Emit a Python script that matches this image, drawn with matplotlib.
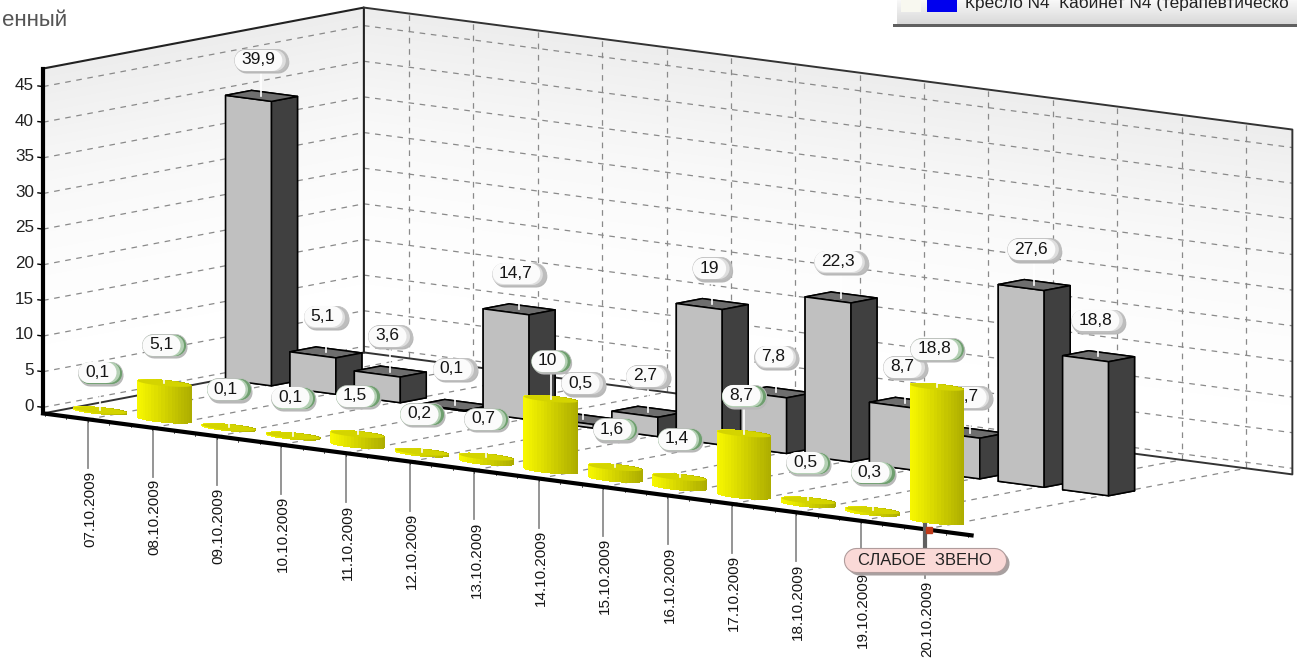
import numpy as np
import matplotlib
matplotlib.use('Agg')
import matplotlib.pyplot as plt
from matplotlib.path import Path
from mpl_toolkits.mplot3d.art3d import Poly3DCollection

plt.rcParams['font.family'] = ['Liberation Sans', 'DejaVu Sans']

dates = ['07.10.2009', '08.10.2009', '09.10.2009', '10.10.2009', '11.10.2009',
         '12.10.2009', '13.10.2009', '14.10.2009', '15.10.2009', '16.10.2009',
         '17.10.2009', '18.10.2009', '19.10.2009', '20.10.2009']
yellow_vals = [0.1, 5.1, 0.1, 0.1, 1.5, 0.2, 0.7, 10, 1.6, 1.4, 8.7, 0.5, 0.3, 18.8]
gray_vals = [39.9, 5.1, 3.6, 0.1, 14.7, 0.5, 2.7, 19, 7.8, 22.3, 8.7, 5.7, 27.6, 18.8]
z_ticks = [0, 5, 10, 15, 20, 25, 30, 35, 40, 45]
legend_text = 'Кресло N4  Кабинет N4 (терапевтическо'
weak_text = 'СЛАБОЕ  ЗВЕНО'

# chart box, everything below is drawn in these units
X0, X1 = -0.70, 13.72
Z0, Z1 = -0.85, 47.53
PX_X = 64.46   # pixels per date
PX_Z = 7.13    # pixels per value unit

W, H = 1297, 671
fig = plt.figure(figsize=(W / 100, H / 100), dpi=100, facecolor='white')
S = 1297
ax = fig.add_axes([1.7 / W, -266.5 / H, S / W, S / H], projection='3d',
                  proj_type='ortho', computed_zorder=False)
ax.view_init(elev=9.09, azim=-50.26)
ax.set_box_aspect((1208, 502, 349.4), zoom=1.013)
ax.set_axis_off()
ax.patch.set_alpha(0)


def wall(xs, ys):
    zz = np.linspace(Z0, Z1, 41)
    X = np.tile(xs, (41, 1))
    Y = np.tile(ys, (41, 1))
    Z = np.column_stack([zz, zz])
    g = np.clip(1.0 - 0.075 * ((zz - Z0) / (Z1 - Z0)) ** 2.2, 0, 1)
    cols = np.zeros((41, 2, 4))
    cols[..., 0] = cols[..., 1] = cols[..., 2] = g[:, None]
    cols[..., 3] = 1
    ax.plot_surface(X, Y, Z, facecolors=cols, shade=False, linewidth=0,
                    antialiased=False, rstride=1, cstride=1, zorder=1)


wall([X0, X0], [0, 1])
wall([X0, X1], [1, 1])

grid = dict(color='#8a8a8a', lw=0.9, ls=(0, (4.5, 4.5)), zorder=2)
for z in z_ticks:
    ax.plot([X0, X0], [0, 1], [z, z], **grid)
    ax.plot([X0, X1], [1, 1], [z, z], **grid)
    ax.plot([X0 - 0.08, X0], [0, 0], [z, z], color='black', lw=1, zorder=3)
    ax.text(X0 - 0.14, 0, z, str(z), ha='right', va='center', fontsize=12.3, color='#222222', zorder=3)
for i in range(len(dates)):
    ax.plot([i, i], [1, 1], [Z0, Z1], **grid)
    ax.plot([i, i], [0, 1], [Z0, Z0], **grid)

# wall outlines
ax.plot([X0, X0, X0], [0, 1, 1], [Z1, Z1, Z0], color='#222222', lw=1.5, zorder=3)
ax.plot([X0, X1, X1, X0, X0], [1, 1, 1, 1, 0], [Z1, Z1, Z0, Z0, Z0], color='#333333', lw=1.4, zorder=3)


def pill(w, h):
    r = h / 2
    t = np.linspace(-np.pi / 2, np.pi / 2, 14)
    right = np.column_stack([w / 2 - r + r * np.cos(t), r * np.sin(t)])
    left = np.column_stack([-w / 2 + r - r * np.cos(t[::-1]), r * np.sin(t[::-1])])
    pts = np.vstack([right, left, right[:1]])
    return Path(pts, closed=True)


def value_label(x, y, z, v, tail, mid, zo):
    s = f'{v:g}'.replace('.', ',')
    tw = sum(4.8 if c == ',' else 9.6 for c in s)
    w = tw + 20
    h = 22
    px = 1 / PX_X
    pz = 1 / PX_Z
    kw = dict(ls='none', zorder=zo)
    ax.plot([x + 1 * px], [y], [z - 2 * pz], marker=pill(w, h), ms=w * 0.72,
            mfc='#b8b8b8', mec='none', **kw)
    ax.plot([x], [y], [z], marker=pill(w, h), ms=w * 0.72,
            mfc=tail, mec='#c0c0c0', mew=0.6, **kw)
    ax.plot([x - 1.5 * px], [y], [z], marker=pill(w - 3, h - 1), ms=(w - 3) * 0.72,
            mfc=mid, mec='none', **kw)
    ax.plot([x - 3 * px], [y], [z], marker=pill(w - 6, h - 1), ms=(w - 6) * 0.72,
            mfc='#fbfbfb', mec='none', **kw)
    ax.text(x - 3 * px, y, z, s, ha='center', va='center', fontsize=12.5,
            color='#151515', zorder=zo + 0.5)


# gray series, further from the viewer
GRAY_Y = 0.5
GRAY_D = 0.081
GRAY_W = 0.713
faces = ['#808080', '#6e6e6e', '#c0c0c0', '#404040', '#c0c0c0', '#404040']
for i, v in enumerate(gray_vals):
    ax.bar3d(i - GRAY_W / 2, GRAY_Y, 0, GRAY_W, GRAY_D, v, color=faces,
             edgecolor='black', linewidth=1.1, shade=False, zorder=10 + i)
    ax.plot([i, i], [GRAY_Y + 0.04] * 2, [v, v + 4.2], color='white', lw=1.2, zorder=10 + i)
for i, v in enumerate(gray_vals):
    value_label(i, GRAY_Y + 0.04, v + 5.0, v, '#bdbdbd', '#dedede', 30 + i)

# front edge sits behind the yellow cylinders
ax.plot([X0, X1], [0, 0], [Z0, Z0], color='black', lw=3, zorder=55)
ax.plot([X0, X0], [0, 0], [Z0, Z1], color='black', lw=3, zorder=55)
for xm in np.arange(X0 + 0.03, X1, 1 / 3):
    ax.plot([xm, xm], [0, 0], [Z0, Z0 - 0.35], color='#404040', lw=0.6, zorder=54)

# date ticks
for i, d in enumerate(dates):
    ax.plot([i, i], [0, 0], [Z0, Z0 - 49 / PX_Z], color='#8c8c8c', lw=1.3, zorder=50)
    ax.text(i + 0.03, 0, Z0 - 51 / PX_Z, d, zdir='z', ha='center', va='top',
            fontsize=11, color='#151515', zorder=50)

# yellow cylinders
CYL_Y = 0.037
RX = 0.39
RY = 0.03
t = np.linspace(0, 2 * np.pi, 49)
for i, v in enumerate(yellow_vals):
    X = np.array([i + RX * np.cos(t)] * 2)
    Y = np.array([CYL_Y + RY * np.sin(t)] * 2)
    Z = np.array([np.zeros_like(t), np.full_like(t, v)])
    s = PX_X * RX * np.cos(t) + 321 * RY * np.sin(t)
    s = (s - s.min()) / (s.max() - s.min())
    g = 0.97 - 0.30 * s
    cols = np.zeros(X.shape + (4,))
    cols[..., 0] = g
    cols[..., 1] = g
    cols[..., 3] = 1
    ax.plot_surface(X, Y, Z, facecolors=cols, shade=False, linewidth=0,
                    antialiased=False, rstride=1, cstride=1, zorder=60 + i)
    top = np.column_stack([X[1], Y[1], Z[1]])
    ax.add_collection3d(Poly3DCollection([top], facecolor='#d4d400', edgecolor='none', zorder=60.5 + i))
    ax.plot([i, i], [CYL_Y, CYL_Y], [v, v + 4.5], color='white', lw=1.2, zorder=60.6 + i)
for i, v in enumerate(yellow_vals):
    value_label(i, CYL_Y, v + 5.3, v, '#6f9f6f', '#b4d0b4', 90 + i)

# weak link callout on the last date
weak_i = int(np.argmax(yellow_vals))
weak_z = Z0 - 31 / PX_Z
ax.plot([weak_i, weak_i], [0, 0], [Z0 + 0.6, weak_z], color='#606060', lw=3, zorder=120)
ax.plot([weak_i + 0.06], [0], [Z0], marker='s', ms=4, color='#c03a1a', ls='none', zorder=121)
ax.plot([weak_i + 0.04], [0], [weak_z - 0.28], marker=pill(162, 24), ms=162 * 0.72, ls='none',
        mfc='#a8a0a0', mec='none', zorder=122)
ax.plot([weak_i - 0.01], [0], [weak_z], marker=pill(162, 24), ms=162 * 0.72, ls='none',
        mfc='#fad9d7', mec='#b09c9c', mew=0.8, zorder=122)
ax.text(weak_i - 0.01, 0, weak_z, weak_text, ha='center', va='center', fontsize=11.9,
        color='#222222', zorder=123)

ax.set_xlim(X0, X1, view_margin=0)
ax.set_ylim(0, 1, view_margin=0)
ax.set_zlim(Z0, Z1, view_margin=0)

# window fragments at the top of the screenshot
top = fig.add_axes([0, 0, 1, 1], zorder=5)
top.imshow(np.linspace(0.97, 0.85, 24)[:, None], cmap='gray', vmin=0, vmax=1, aspect='auto',
           extent=(897, W, 24, 0))
top.set_xlim(0, W)
top.set_ylim(H, 0)
top.axis('off')
top.fill_between([893, W], 24, 27, color='#606060', lw=0)
top.fill_between([901, 921], 0, 12, color='#f8f8f0', lw=0)
top.fill_between([927, 957], 0, 12, color='#0000ee', lw=0)
top.text(965, 3, legend_text, ha='left', va='center', fontsize=12.4, color='#222222')
top.text(2, 20, 'енный', ha='left', va='center', fontsize=16, color='#555555')

fig.savefig('out.png', dpi=100)
